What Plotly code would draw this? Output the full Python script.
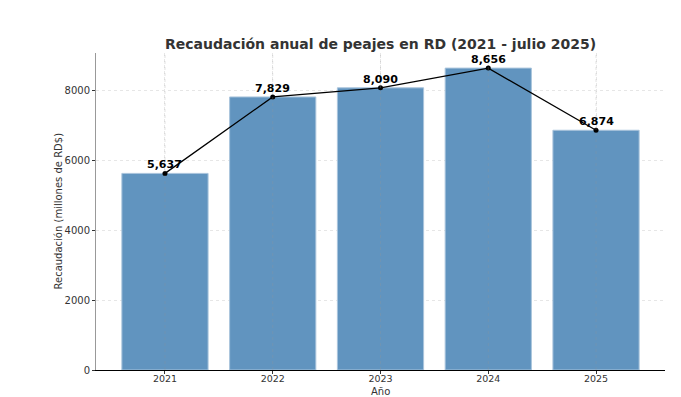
import plotly.graph_objects as go

years = ["2021", "2022", "2023", "2024", "2025"]
values = [5637, 7829, 8090, 8656, 6874]
labels = ["5,637", "7,829", "8,090", "8,656", "6,874"]

x_idx = list(range(len(years)))

W, H = 681, 397
L, R, T, B = 96, 16, 53, 27

fig = go.Figure()
fig.add_trace(go.Bar(
    x=x_idx, y=values, width=0.8,
    marker=dict(color="#6194bf", line=dict(color="#a9c4dc", width=1)),
    showlegend=False, hoverinfo="skip",
))
fig.add_trace(go.Scatter(
    x=x_idx, y=values, mode="lines+markers",
    line=dict(color="black", width=1.3),
    marker=dict(color="black", size=5),
    showlegend=False, hoverinfo="skip",
))
for xi, v, lab in zip(x_idx, values, labels):
    fig.add_annotation(x=xi, y=v, text="<b>%s</b>" % lab, showarrow=False,
                       yanchor="bottom", yshift=0,
                       font=dict(family="DejaVu Sans", size=11, color="black"))

# vertical dotted grid lines drawn over the bars at category centres
for xi in x_idx:
    fig.add_shape(type="line", xref="x", yref="paper", x0=xi, x1=xi, y0=0, y1=1,
                  line=dict(color="rgba(150,150,150,0.35)", width=0.8, dash="dot"),
                  layer="above")

# axis titles
fig.add_annotation(text="Año", xref="paper", yref="paper", x=0.5, y=-(391 - (H - B)) / (H - T - B),
                   yanchor="middle", showarrow=False, font=dict(size=10, color="#333333"))
fig.add_annotation(text="Recaudación (millones de RD$)", xref="paper", yref="paper",
                   x=-(L - 58) / (W - L - R), y=0.5, xanchor="center", yanchor="middle",
                   textangle=-90, showarrow=False, font=dict(size=10, color="#333333"))

grid = dict(showgrid=True, gridcolor="#e6e6e6", griddash="dot", gridwidth=0.8)

fig.update_layout(
    width=W, height=H,
    margin=dict(l=L, r=R, t=T, b=B),
    paper_bgcolor="white", plot_bgcolor="white",
    font=dict(family="DejaVu Sans", size=10, color="#333333"),
    title=dict(text="<b>Recaudación anual de peajes en RD (2021 - julio 2025)</b>",
               x=(L + W - R) / 2 / W, xanchor="center", y=1 - 44 / H, yanchor="middle",
               font=dict(family="DejaVu Sans", size=14, color="#333333")),
    xaxis=dict(
        range=[-0.64, 4.64], tickmode="array", tickvals=x_idx, ticktext=years,
        showline=True, linecolor="black", linewidth=1, ticks="outside", ticklen=3,
        tickcolor="#333333", zeroline=False, automargin=False,
        tickfont=dict(size=9.5), ticklabelstandoff=-3,
        **grid,
    ),
    yaxis=dict(
        range=[0, 9089], tickvals=[0, 2000, 4000, 6000, 8000],
        showline=True, linecolor="#999999", linewidth=1, ticks="outside", ticklen=3,
        tickcolor="#333333", zeroline=False, automargin=False,
        tickfont=dict(size=10),
        **grid,
    ),
)

fig.write_html("out.html", config={"displayModeBar": False},
               post_script="document.body.style.margin='0px';")
